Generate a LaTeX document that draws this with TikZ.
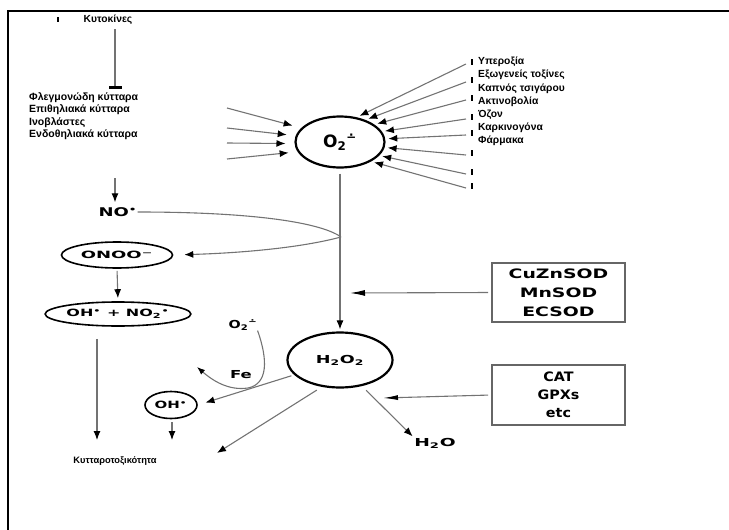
\documentclass[tikz,border=0pt]{standalone}
\usepackage{graphicx}
\usepackage{fontspec}
\setmainfont{Liberation Sans}
\newfontfamily\chem{DejaVu Sans}
\usetikzlibrary{arrows.meta,shapes.geometric,calc}
\newcommand{\wx}[2]{\scalebox{#1}[1]{#2}}
\newcommand{\dm}{\textsuperscript{∸}}
\begin{document}
\begin{tikzpicture}[x=1pt,y=-1pt,
  lbl/.style={font=\fontsize{10.3}{13}\selectfont\bfseries, inner sep=0pt},
  chm/.style={font=\chem\bfseries\fontsize{#1}{#1}\selectfont, inner sep=0pt},
  chm/.default=10,
  ln/.style={draw=black!55, line width=1.1pt},
  arr/.style={ln, -{Latex[length=9pt,width=7pt,color=black]}},
  ring/.style={ellipse, draw=black, line width=#1, inner sep=0pt},
  ring/.default=1.5pt,
  tick/.style={draw=black, line width=1.2pt},
  box/.style={draw=black!60, line width=1.8pt, minimum width=133pt, inner sep=0pt, align=center},
  ]
\useasboundingbox (0,0) rectangle (729,530);
\draw[line width=1.5pt] (8,530) -- (8,11) -- (729,11);

% top left
\node[lbl] (kyt) at (108,20) {Κυτοκίνες};
\draw[tick] (58,17) -- (58,22);
\coordinate (tbar) at (115,89);
\draw[ln, line width=1.4pt, shorten <=4pt, -{Bar[width=13pt,line width=3.5pt,color=black]}] (kyt.south -| tbar) -- (tbar);
\node[lbl, anchor=north west, align=left, font=\fontsize{10.5}{12.5}\selectfont\bfseries] (cells) at (29,92)
  {Φλεγμονώδη κύτταρα\\Επιθηλιακά κύτταρα\\Ινοβλάστες\\Ενδοθηλιακά κύτταρα};

% left column
\node[chm=12] (NO) at (118,212) {\wx{1.5}{NO\textsuperscript{•}}};
\coordinate (noin) at (115,178);
\draw[arr, shorten >=5pt] (noin) -- (NO.north -| noin);
\node[ring=1.6pt, minimum width=111pt, minimum height=26pt, chm=10] (ONOO) at (117,255) {\wx{1.8}{ONOO\textsuperscript{−}}};
\node[ring=1.6pt, minimum width=137pt, minimum height=24pt, chm=10] (OHNO) at (118,314) {\wx{1.6}{OH\textsuperscript{•} + NO\textsubscript{2}\textsuperscript{•}}};
\draw[arr, shorten <=2pt, shorten >=3pt] (ONOO.south) -- (OHNO.north);
\coordinate (cyt1) at (97,440);
\draw[arr, shorten <=12pt] (OHNO.south -| cyt1) -- (cyt1);
\node[lbl, font=\fontsize{9.3}{10}\selectfont\bfseries] (cyto) at (115,461) {Κυτταροτοξικότητα};

% superoxide
\node[ring=2.2pt, minimum width=89pt, minimum height=51pt, font=\chem\bfseries\fontsize{17}{17}\selectfont] (O2) at (340,142) {O\textsubscript{2}\dm};
\foreach \y/\a in {108/160,128/172,143/182,159/193}
  \draw[arr, shorten >=9pt] (227,\y) -- (O2.\a);
\foreach \y/\a in {62/56,80/41,98/27,117/14,133/4,153/-7,172/-19,186/-32}{
  \draw[arr, shorten >=3pt] (466,\y+2) -- (O2.\a);
  \draw[tick] (472,\y-3) -- (472,\y+3);
}
\foreach \t [count=\i] in {Υπεροξία,Εξωγενείς τοξίνες,Καπνός τσιγάρου,Ακτινοβολία,Όζον,Καρκινογόνα,Φάρμακα}
  \node[lbl, anchor=west] (s\i) at (478,{62+13.2*(\i-1)}) {\t};

% H2O2
\node[ring=2.2pt, minimum width=105pt, minimum height=55pt, chm=11] (H2O2) at (340,360) {\wx{1.6}{H\textsubscript{2}O\textsubscript{2}}};
\draw[arr, shorten <=5pt, shorten >=2pt] (O2.south) -- (H2O2.north);
\coordinate (hp) at (341,237);
\draw[ln] (NO.east) .. controls (250,212) and (320,222) .. (hp);
\draw[arr, shorten >=11pt] (hp) .. controls (300,248) and (240,253) .. (ONOO.east);

% enzyme boxes
\node[box, minimum height=59pt, font=\chem\bfseries\fontsize{13}{19}\selectfont] (SOD) at (558.5,292.5)
  {\wx{1.45}{CuZnSOD}\\\wx{1.45}{MnSOD}\\\wx{1.45}{ECSOD}};
\node[box, minimum height=60pt, font=\chem\bfseries\fontsize{13}{18}\selectfont] (CAT) at (558.5,395)
  {\wx{1.1}{CAT}\\\wx{1.1}{GPXs}\\\wx{1.1}{etc}};
\coordinate (sodp) at (350,293);
\draw[ln, shorten <=3pt, -{Latex[length=15pt,width=6pt,color=black]}] (SOD.west) -- (sodp);
\coordinate (catp) at (383,398);
\draw[ln, shorten <=3pt, -{Latex[length=15pt,width=5pt,color=black]}] (CAT.west) -- (catp);

% products of H2O2
\node[chm=11] (H2O) at (435,443) {\wx{1.7}{H\textsubscript{2}O}};
\draw[arr, shorten <=6pt, shorten >=2pt] (H2O2.-50) -- (H2O.north west);
\coordinate (ctip) at (217,453);
\draw[arr, shorten <=6pt] (H2O2.-124) -- (ctip);
\node[ring=1.6pt, minimum width=52pt, minimum height=27pt, chm=10] (OH) at (171,405) {\wx{1.5}{OH\textsuperscript{•}}};
\draw[arr, shorten <=3pt, shorten >=8pt] (H2O2.198) -- (OH.east);
\coordinate (cyt2) at (172,440);
\draw[arr, shorten <=3pt] (OH.south -| cyt2) -- (cyt2);

% Fenton
\node[chm=11] (O2m) at (243,325) {\wx{1.3}{O\textsubscript{2}\dm}};
\node[chm=11] (Fe) at (241,375) {\wx{1.5}{Fe}};
\coordinate (fetip) at (197,367);
\draw[arr, -{Latex[length=8pt,width=6pt,color=black]}] (O2m.south east) .. controls (268,360) and (268,384) .. (248,388) .. controls (228,391) and (212,380) .. (fetip);
\end{tikzpicture}
\end{document}
